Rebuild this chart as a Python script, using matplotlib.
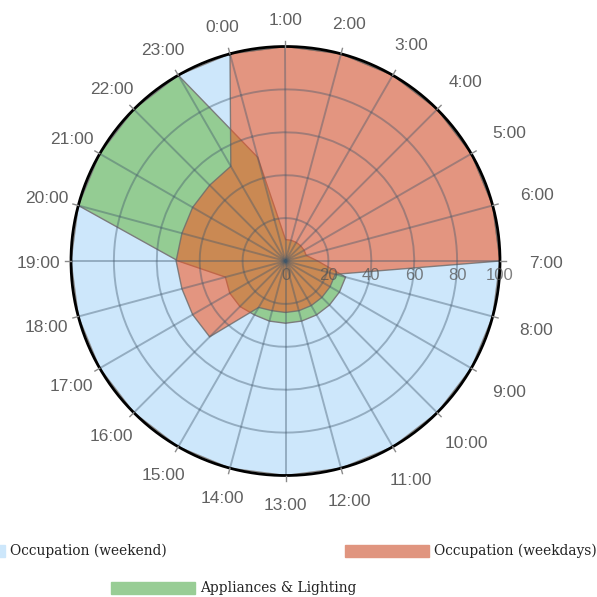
import numpy as np
import matplotlib
matplotlib.use("Agg")
import matplotlib.pyplot as plt
from matplotlib.patches import Rectangle

# data (value at each hour spoke, 0..100)
hours = list(range(24))
hour_labels = ["%d:00" % h for h in hours]
weekend = [100, 100, 100, 100, 100, 100, 100, 100, 100, 100, 100, 100,
           100, 100, 100, 100, 100, 100, 100, 100, 100, 100, 100, 100]
weekdays = [100, 100, 100, 100, 100, 100, 100, 100, 24, 24, 24, 24,
            24, 24, 24, 25, 50, 50, 50, 51, 50, 50, 50, 51]
appliances = [50, 10, 10, 10, 10, 10, 10, 15, 29, 29, 29, 29,
              29, 29, 29, 29, 30, 30, 29, 50, 100, 100, 100, 100]
r_ticks = [0, 20, 40, 60, 80, 100]

W = 597.0
fig = plt.figure(figsize=(5.97, 5.97), dpi=100)
ax = fig.add_axes([71 / W, (W - 475.5) / W, 429 / W, 429 / W], projection="polar")
ax.set_theta_direction(-1)
ax.set_theta_offset(np.deg2rad(105))

theta = np.deg2rad(np.array(hours) * 15.0)

def closed(v):
    v = list(v)
    return v + v[:1]

th = closed(theta)
ax.fill(th, closed(weekend), facecolor="#cde7fb", edgecolor="#8a8a8a", lw=1, zorder=1)
ax.fill(th, closed(appliances), facecolor="#94cc93", edgecolor="#7c7c7c", lw=1, zorder=1.2)
ax.fill(th, closed(weekdays), facecolor=(244 / 255, 87 / 255, 35 / 255, 0.57),
        edgecolor=(0.42, 0.42, 0.42, 0.8), lw=1, zorder=1.4)

ax.set_ylim(0, 100)
ax.set_yticks(r_ticks[1:-1])
ax.set_yticklabels([])
ax.set_xticks(theta)
ax.set_xticklabels([])
ax.set_axisbelow(False)
ax.grid(color="#40566a", alpha=0.4, linewidth=1.4)
ax.spines["polar"].set_visible(False)

# outer ring and small tick marks
ring = np.linspace(0, 2 * np.pi, 361)
ax.plot(ring, np.full_like(ring, 100.0), color="black", lw=2, zorder=6, clip_on=False)
for t in theta:
    ax.plot([t, t], [100, 102.6], color="#8a8a8a", lw=1, zorder=6, clip_on=False)

# hour labels around the ring
for h, t in zip(hours, theta):
    a = np.deg2rad(105 - 15 * h)
    c = np.cos(a)
    extra = 28 + 18 * max(c, 0) + 5 * max(-c, 0)
    ax.annotate(hour_labels[h], (t, 100), xytext=(extra * c, extra * np.sin(a) - 2),
                textcoords="offset pixels", ha="center", va="center",
                fontsize=12.5, color="#606060", family="Liberation Sans",
                annotation_clip=False)

# radial labels along the 7:00 spoke
for r in r_ticks:
    ax.annotate(str(r), (theta[7], r), xytext=(0, -14), textcoords="offset pixels",
                ha="center", va="center", fontsize=12, color="#555555", alpha=0.75,
                family="Liberation Sans", zorder=7, annotation_clip=False)

# legend, drawn by hand to keep the odd layout
def legend_item(x0, y0, w, h, color, label):
    fig.add_artist(Rectangle((x0 / W, 1 - (y0 + h) / W), w / W, h / W,
                             transform=fig.transFigure, color=color))
    fig.text((x0 + w + 5) / W, 1 - (y0 + h / 2) / W, label, va="center", ha="left",
             fontsize=9.9, family="DejaVu Serif", color="#222222")

legend_item(-80, 545, 85, 12, "#cde7fb", "Occupation (weekend)")
legend_item(345, 545, 84, 12, "#e0957f", "Occupation (weekdays)")
legend_item(111, 582, 84, 12, "#98cd95", "Appliances & Lighting")

fig.savefig("out.png", dpi=100)
